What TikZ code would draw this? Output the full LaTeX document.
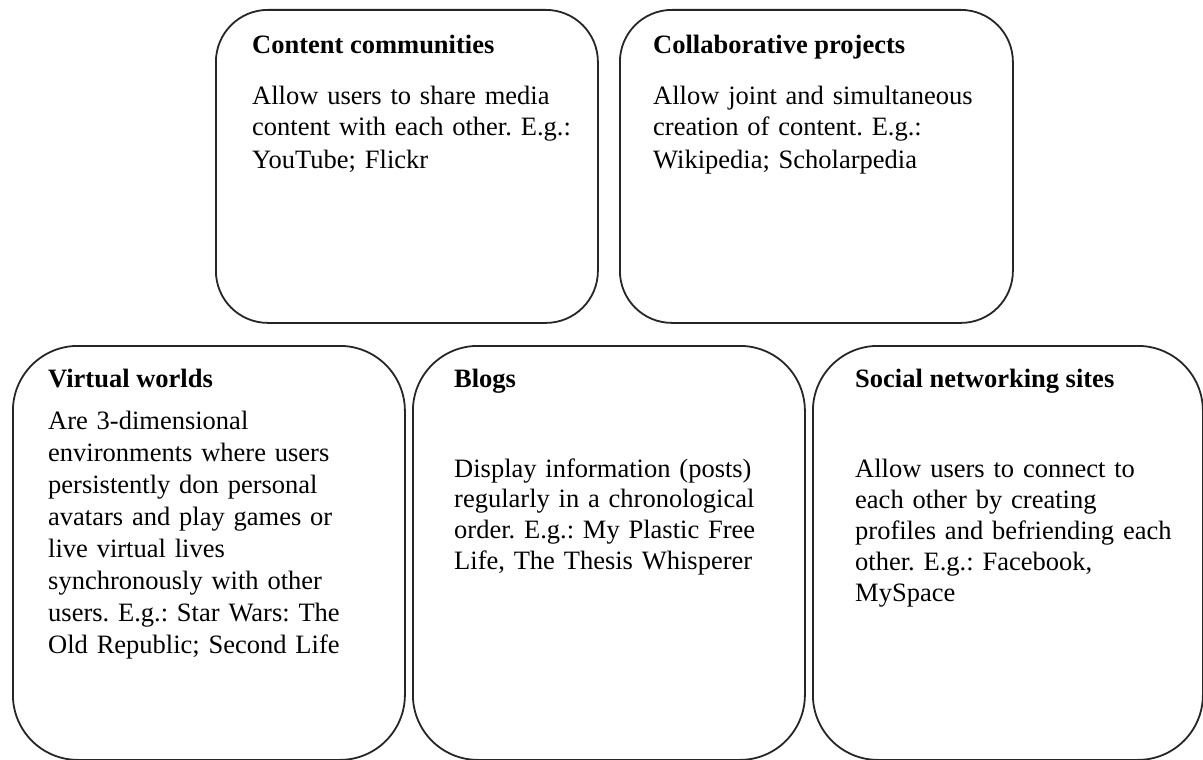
\documentclass[tikz,border=0pt]{standalone}
\usepackage{fontspec}
\setmainfont{Liberation Serif}
\frenchspacing
\begin{document}
\frenchspacing
\begin{tikzpicture}[x=1pt,y=-1pt,
  box/.style={draw=black!85, line width=1.8pt, inner sep=0pt, anchor=north west},
  ttl/.style={anchor=base west, inner sep=0pt, font=\fontsize{26.5}{31.5}\selectfont\bfseries},
  body/.style={anchor=base west, inner sep=0pt, text width=370pt, align=left, font=\fontsize{26.5}{#1}\selectfont\frenchspacing},
  body/.default=31.5]
\useasboundingbox (0,0) rectangle (1203,760);
% top boxes
\node[box, rounded corners=52pt, minimum width=382pt, minimum height=313pt] (b1) at (215,9) {};
\node[box, rounded corners=52pt, minimum width=393pt, minimum height=313pt] (b2) at (619,9) {};
% bottom boxes
\node[box, rounded corners=65pt, minimum width=392pt, minimum height=414pt] (b3) at (12,345) {};
\node[box, rounded corners=65pt, minimum width=392pt, minimum height=414pt] (b4) at (412,345) {};
\node[box, rounded corners=65pt, minimum width=390pt, minimum height=414pt] (b5) at (812,345) {};
% texts
\node[ttl] (t1) at (252,54) {Content communities};
\node[body=32] (d1) at (252,104) {Allow users to share media\\content with each other. E.g.:\\YouTube; Flickr};
\node[ttl] (t2) at (653,54) {Collaborative projects};
\node[body=32] (d2) at (653,104) {Allow joint and simultaneous\\creation of content. E.g.:\\Wikipedia; Scholarpedia};
\node[ttl] (t3) at (48,387) {Virtual worlds};
\node[body=32] (d3) at (48,429) {Are 3-dimensional\\environments where users\\persistently don personal\\avatars and play games or\\live virtual lives\\synchronously with other\\users. E.g.: Star Wars: The\\Old Republic; Second Life};
\node[ttl] (t4) at (454,387) {Blogs};
\node[body=30.8] (d4) at (454,477) {Display information (posts)\\regularly in a chronological\\order. E.g.: My Plastic Free\\Life, The Thesis Whisperer};
\node[ttl] (t5) at (855,387) {Social networking sites};
\node[body=31] (d5) at (855,477) {Allow users to connect to\\each other by creating\\profiles and befriending each\\other. E.g.: Facebook,\\MySpace};
\end{tikzpicture}
\end{document}
